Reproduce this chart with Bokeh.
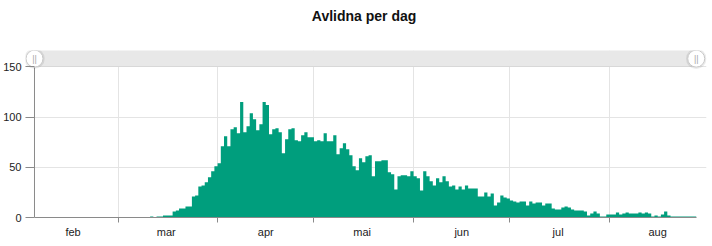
import pandas as pd
from bokeh.plotting import figure
from bokeh.layouts import column
from bokeh.models import Range1d, FixedTicker, ColumnDataSource
from bokeh.embed import file_html
from bokeh.resources import INLINE
from bokeh.core.properties import value

# ---------------- data ----------------
title_text = "Avlidna per dag"
start_date = "2020-02-04"
# deaths per day, from 2020-02-04 onwards
deaths = [
    0, 0, 0, 0, 0, 0, 0, 0, 0, 0, 0, 0, 0, 0, 0, 0, 0, 0, 0, 0,
    0, 0, 0, 0, 0, 0, 0, 0, 0, 0, 0, 0, 0, 0, 0, 0,
    1, 0, 1, 1, 2, 2, 2, 6, 7, 9, 9, 11, 11,
    21, 22, 31, 32, 35, 40, 46, 51, 54,
    71, 81, 71, 88, 90, 84, 115, 85, 91, 104, 98, 87, 93, 115, 112,
    83, 88, 89, 85, 64, 78, 88, 89, 77, 76, 82, 85, 80, 80, 76, 77, 76, 84, 76, 76, 82, 63,
    69, 74, 68, 62, 51, 47, 59, 55, 61, 62, 41, 56, 56, 57, 57, 45, 43, 28,
    41, 42, 42, 41, 46, 41, 39, 27, 46, 41, 36, 32,
    39, 35, 41, 36, 31, 32, 28, 31, 28, 32, 29, 29, 29, 21, 21, 25, 21, 24, 12, 15,
    22, 20, 19, 17, 16, 15,
    16, 16, 12, 16, 14, 15, 15, 12, 14, 14,
    9, 8, 8, 10, 11, 10, 8, 7, 7, 7, 6,
    2, 4, 6, 4, 1, 1, 3, 3, 3, 5, 3, 4, 5, 4, 4, 4, 5, 4, 5, 4,
    1, 2, 1, 3, 6, 2, 1, 1, 1, 1, 1, 1, 1, 1,
]
month_labels = ["feb", "mar", "apr", "mai", "jun", "jul", "aug"]
y_ticks = [0, 50, 100, 150]
y_labels = ["0", "50", "100", "150"]

# ---------------- derived ----------------
start = pd.Timestamp(start_date)
n = len(deaths)
dates = pd.date_range(start, periods=n, freq="D")
day_idx = [(d - start).days for d in dates]
# bars drawn as one seamless step area: each day occupies [day, day+1)
step_src = ColumnDataSource(dict(x=day_idx + [n], top=deaths + [deaths[-1]],
                                 base=[0] * (n + 1)))

month_starts = [(ts - start).days for ts in pd.date_range(start, dates[-1], freq="MS")]
label_pos = [(pd.Timestamp(start.year, start.month + k, 16) - start).days
             for k in range(len(month_labels))]

GREEN = "#009e7d"
AXIS = "#8a8a8a"
GRID = "#e4e4e4"
FONT = "Liberation Sans"
W, H_TITLE, H_MAIN = 712, 30, 216

# ---------------- title strip ----------------
pt = figure(width=W, height=H_TITLE, output_backend="svg", toolbar_location=None,
            x_range=Range1d(0, W), y_range=Range1d(H_TITLE, 0),
            x_axis_location=None, y_axis_location=None, min_border=0)
pt.outline_line_color = None
pt.xgrid.visible = False
pt.ygrid.visible = False
pt.text(x=[W / 2 - 2], y=[H_TITLE / 2], text=[title_text], text_align="center",
        text_baseline="middle", text_font=value(FONT), text_font_size="14px",
        text_font_style="bold", text_color="#111111")

# ---------------- main chart ----------------
p = figure(width=W, height=H_MAIN, output_backend="svg", toolbar_location=None,
           x_range=Range1d(-2.8, n + 3.2), y_range=Range1d(0, 166.4),
           min_border_left=25, min_border_right=6, min_border_top=20,
           min_border_bottom=29)
p.outline_line_color = None
p.background_fill_color = "white"

# grids
p.xgrid.ticker = FixedTicker(ticks=month_starts)
p.ygrid.ticker = FixedTicker(ticks=y_ticks[1:])
p.xgrid.grid_line_color = GRID
p.ygrid.grid_line_color = GRID

# bars (one per day, no gaps)
p.varea_step(x="x", y1="base", y2="top", step_mode="after", source=step_src,
             fill_color=GREEN)

# y axis line at first day
p.segment(x0=[day_idx[0]], y0=[y_ticks[0]], x1=[day_idx[0]], y1=[y_ticks[-1]],
          line_color=AXIS, line_width=1)

# x axis
xa = p.xaxis[0]
xa.ticker = FixedTicker(ticks=label_pos, minor_ticks=month_starts)
xa.major_label_overrides = dict(zip(label_pos, month_labels))
xa.bounds = (0, n)
xa.axis_line_color = AXIS
xa.major_tick_line_color = None
xa.major_tick_out = 0
xa.major_tick_in = 0
xa.minor_tick_line_color = AXIS
xa.minor_tick_out = 5
xa.minor_tick_in = 0
xa.major_label_standoff = 3
xa.major_label_text_font = FONT
xa.major_label_text_font_size = "11px"
xa.major_label_text_color = "#222222"

# y axis
ya = p.yaxis[0]
ya.ticker = FixedTicker(ticks=y_ticks)
ya.major_label_overrides = dict(zip(y_ticks, y_labels))
ya.axis_line_color = None
ya.major_tick_line_color = AXIS
ya.major_tick_in = 9
ya.major_tick_out = 0
ya.minor_tick_line_color = None
ya.major_label_standoff = 4
ya.major_label_text_font = FONT
ya.major_label_text_font_size = "11px"
ya.major_label_text_color = "#222222"

# data-zoom slider decoration
slider_bottom = y_ticks[-1] + 0.5
p.quad(left=[0], right=[n], bottom=[slider_bottom], top=[175],
       fill_color="#e8e8e8", line_color="#d8d8d8", line_width=1)
hy = [158.3, 158.3]
p.scatter(x=[0, n], y=hy, size=19, marker="circle", fill_color=None,
          line_color="#000000", line_alpha=0.08, line_width=1.5)
p.scatter(x=[0, n], y=hy, size=17, marker="circle", fill_color="white",
          line_color="#c6c6c6", line_width=1)
p.text(x=[0, n], y=hy, text=["||", "||"], text_align="center",
       text_baseline="middle", text_font_size="9px", text_color="#a8a8a8",
       text_font=value(FONT))

layout = column(pt, p, spacing=0)
open("out.html", "w").write(file_html(layout, INLINE))
